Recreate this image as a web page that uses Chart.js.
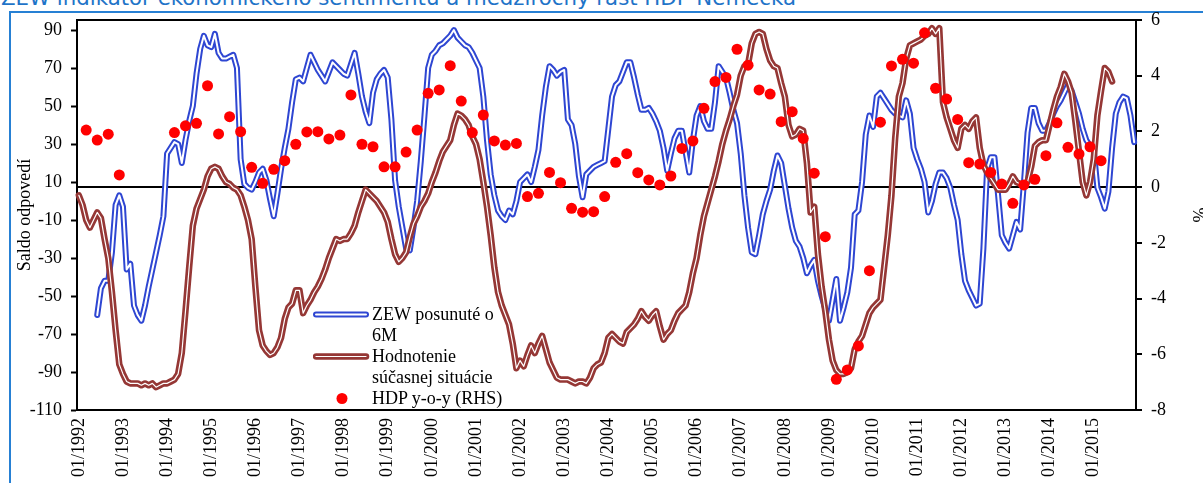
<!DOCTYPE html>
<html lang="sk">
<head>
<meta charset="utf-8">
<title>ZEW indikátor a HDP Nemecka</title>
<script src="https://cdn.jsdelivr.net/npm/chart.js@4.4.0/dist/chart.umd.min.js"></script>
<style>
  html, body { margin: 0; padding: 0; background: #fff; }
  #wrap { position: relative; width: 1203px; height: 483px; overflow: hidden; }
  #nadpis { position: absolute; left: 1px; top: -12px; font-family: "DejaVu Sans", Verdana, sans-serif; font-size: 21.3px; line-height: 20px; color: #1F74C8; white-space: nowrap; }
  #ramik { position: absolute; left: 9px; top: 11px; right: -2px; bottom: -2px; border-top: 2px solid #2680D4; border-left: 2px solid #2680D4; }
  canvas { position: absolute; left: 0; top: 0; }
  #legenda { position: absolute; left: 313px; top: 304px; font-family: "Liberation Serif", "Times New Roman", serif; font-size: 18px; line-height: 21px; color: #000; }
  .riadok { position: relative; padding-left: 59px; white-space: nowrap; }
  .riadok svg { position: absolute; left: 0; top: 0; }
</style>
</head>
<body>
<div id="wrap">
  <div id="ramik"></div>
  <div id="nadpis">ZEW indikátor ekonomického sentimentu a medziročný rast HDP Nemecka</div>
  <canvas id="graf" width="1203" height="483"></canvas>
  <div id="legenda">
    <div class="riadok">
      <svg width="58" height="21"><line x1="3" y1="10.5" x2="53" y2="10.5" stroke="#2E46D2" stroke-width="6" stroke-linecap="round"/><line x1="3" y1="10.5" x2="53" y2="10.5" stroke="#fff" stroke-width="2" stroke-linecap="round"/></svg>
      ZEW posunuté o<br>6M
    </div>
    <div class="riadok">
      <svg width="58" height="21"><line x1="3" y1="10.5" x2="53" y2="10.5" stroke="#953735" stroke-width="6.5" stroke-linecap="round"/><line x1="3" y1="10.5" x2="53" y2="10.5" stroke="#fff" stroke-width="1.2" stroke-linecap="round"/></svg>
      Hodnotenie<br>súčasnej situácie
    </div>
    <div class="riadok">
      <svg width="58" height="21"><circle cx="29" cy="10.5" r="5.5" fill="#FF0000"/></svg>
      HDP y-o-y (RHS)
    </div>
  </div>
</div>
<script>
// mesiace 01/1992 .. 12/2015
const roky = [];
for (let r = 1992; r <= 2015; r++) roky.push(r);
const mesiace = [];
roky.forEach(r => {
  for (let m = 1; m <= 12; m++) mesiace.push((m < 10 ? '0' + m : '' + m) + '/' + r);
});

// ZEW posunute o 6M (lava os), po rokoch
const zew = [
  null, null, null, null, null, -60, -46, -42, -42, -27, -2, 3,      // 1992
  -3, -36, -33, -55, -60, -63, -55, -45, -36, -27, -18, -8,          // 1993
  25, 28, 31, 30, 20, 32, 42, 50, 67, 80, 87, 82,                    // 1994
  81, 88, 78, 75, 75, 76, 77, 70, 22, 9, 7, 6,                       // 1995
  10, 15, 17, 11, 1, -8, 4, 17, 28, 38, 52, 64,                      // 1996
  65, 63, 70, 77, 73, 69, 66, 63, 68, 73, 71, 69,                    // 1997
  67, 66, 72, 78, 67, 55, 47, 41, 57, 64, 67, 69,                    // 1998
  65, 43, 11, -3, -14, -25, -26, -14, 0, 21, 45, 70,                 // 1999
  77, 79, 82, 83, 85, 87, 90, 86, 84, 82, 81, 78,                    // 2000
  74, 70, 55, 32, 14, 3, -5, -8, -10, -5, -7, 0,                     // 2001
  10, 12, 14, 10, 18, 27, 45, 60, 71, 69, 66, 68,                    // 2002
  69, 43, 40, 30, 13, 2, 14, 16, 18, 19, 20, 21,                     // 2003
  38, 55, 61, 63, 68, 73, 73, 65, 56, 48, 48, 49,                    // 2004
  46, 42, 37, 28, 16, 25, 33, 37, 37, 26, 15, 32,                    // 2005
  45, 50, 42, 38, 38, 52, 71, 68, 65, 57, 48, 41,                    // 2006
  25, 3, -14, -27, -28, -18, -7, 0, 6, 16, 24, 20,                   // 2007
  8, -4, -14, -21, -24, -30, -38, -34, -31, -42, -50, -57,           // 2008
  -63, -52, -41, -63, -56, -48, -35, -7, -5, 10, 35, 45,             // 2009
  39, 55, 57, 54, 51, 48, 46, 45, 44, 53, 46, 28,                    // 2010
  22, 17, 10, -6, 0, 9, 15, 15, 12, 7, -2, -10,                      // 2011
  -28, -42, -47, -51, -55, -54, -25, 17, 23, 23, 3, -18,             // 2012
  -22, -25, -18, -11, -15, 9, 36, 49, 49, 41, 37, 37,                // 2013
  41, 46, 50, 53, 57, 61, 58, 52, 46, 38, 32, 29,                    // 2014
  27, 7, 2, -4, 5, 28, 46, 52, 55, 54, 45, 31                        // 2015
];

// Hodnotenie sucasnej situacie (lava os)
const hodnotenie = [
  3, -2, -10, -14, -10, -6, -9, -20, -30, -48, -68, -86,             // 1992
  -91, -95, -96, -96, -96, -97, -96, -97, -96, -98, -97, -96,        // 1993
  -96, -95, -94, -91, -80, -58, -35, -13, -4, 1, 6, 13,              // 1994
  17, 18, 17, 13, 10, 9, 7, 6, 3, -3, -10, -20,                      // 1995
  -45, -68, -76, -79, -81, -80, -77, -72, -62, -56, -54, -47,        // 1996
  -47, -59, -55, -52, -48, -45, -41, -36, -30, -25, -20, -21,        // 1997
  -20, -20, -17, -13, -6, 0, 6, 4, 2, 0, -3, -6,                     // 1998
  -11, -20, -28, -32, -30, -27, -19, -12, -8, -3, 0, 4,              // 1999
  10, 15, 21, 26, 29, 32, 40, 46, 45, 43, 40, 34,                    // 2000
  30, 22, 10, -3, -18, -35, -48, -55, -60, -65, -75, -88,            // 2001
  -84, -87, -81, -76, -80, -75, -71, -78, -85, -89, -93, -94,        // 2002
  -94, -94, -95, -96, -95, -95, -96, -93, -88, -86, -85, -80,        // 2003
  -72, -70, -72, -74, -75, -69, -67, -65, -62, -58, -61, -63,        // 2004
  -60, -58, -66, -73, -70, -68, -63, -59, -57, -55, -48, -38,        // 2005
  -30, -18, -8, -1, 6, 13, 21, 30, 37, 43, 50, 56,                   // 2006
  66, 71, 72, 83, 88, 89, 88, 80, 74, 71, 70, 62,                    // 2007
  55, 40, 34, 35, 38, 37, 20, -6, -3, -28, -45, -58,                 // 2008
  -73, -84, -89, -91, -91, -90, -88, -78, -74, -71, -65, -59,        // 2009
  -56, -54, -52, -35, -18, 3, 33, 55, 62, 75, 82, 83,                // 2010
  84, 85, 87, 88, 91, 88, 91, 52, 44, 38, 32, 28,                    // 2011
  38, 40, 38, 42, 44, 28, 19, 15, 12, 9, 6, 6,                       // 2012
  6, 9, 13, 10, 9, 9, 10, 18, 29, 31, 32, 32,                        // 2013
  40, 48, 55, 60, 67, 63, 57, 42, 26, 10, 3, 10,                     // 2014
  22, 45, 58, 70, 68, 63, null, null, null, null, null, null         // 2015
];

// HDP y-o-y v %, stvrtroky Q1..Q4 (prava os)
const hdp = [
  2.05, 1.69, 1.9, 0.44,      // 1992
  null, null, null, null,     // 1993
  1.96, 2.2, 2.29, 3.64,      // 1994
  1.91, 2.53, 1.99, 0.71,     // 1995
  0.14, 0.64, 0.95, 1.54,     // 1996
  1.98, 1.99, 1.73, 1.87,     // 1997
  3.31, 1.54, 1.45, 0.73,     // 1998
  0.73, 1.26, 2.05, 3.37,     // 1999
  3.49, 4.36, 3.09, 1.96,     // 2000
  2.59, 1.66, 1.51, 1.57,     // 2001
  -0.34, -0.22, 0.53, 0.16,   // 2002
  -0.76, -0.9, -0.88, -0.34,  // 2003
  0.89, 1.2, 0.52, 0.26,      // 2004
  0.08, 0.4, 1.39, 1.66,      // 2005
  2.83, 3.79, 3.94, 4.95,     // 2006
  4.38, 3.49, 3.34, 2.35,     // 2007
  2.71, 1.75, 0.5, -1.78,     // 2008
  -6.9, -6.56, -5.7, -3.0,    // 2009
  2.33, 4.35, 4.59, 4.45,     // 2010
  5.54, 3.55, 3.16, 2.43,     // 2011
  0.88, 0.83, 0.53, 0.11,     // 2012
  -0.58, 0.08, 0.28, 1.13,    // 2013
  2.31, 1.43, 1.19, 1.45,     // 2014
  0.95, null, null, null      // 2015
];

const lavaOsTicks = [-110, -90, -70, -50, -30, -10, 10, 30, 50, 70, 90];

// bod stvrtroka patri k poslednemu mesiacu stvrtroka
const hdpBody = [];
hdp.forEach((v, q) => {
  if (v !== null) hdpBody.push({ x: mesiace[q * 3 + 2], y: v });
});

const modra = '#2E46D2';
const hneda = '#953735';

Chart.defaults.font.family = "'Liberation Serif', 'Times New Roman', serif";
Chart.defaults.font.size = 18;
Chart.defaults.color = '#000';

/* horna hrana plochy grafu */
const ramcek = {
  id: 'ramcek',
  beforeDatasetsDraw(chart) {
    const { ctx, chartArea: a } = chart;
    ctx.save();
    ctx.strokeStyle = '#000';
    ctx.lineWidth = 2;
    ctx.beginPath();
    ctx.moveTo(a.left - 1, a.top);
    ctx.lineTo(a.right + 1, a.top);
    ctx.stroke();
    ctx.restore();
  }
};

const ciara = { pointRadius: 0, tension: 0, borderJoinStyle: 'round', borderCapStyle: 'round', yAxisID: 'y' };

new Chart(document.getElementById('graf'), {
  type: 'line',
  data: {
    labels: mesiace,
    datasets: [
      { label: 'HDP y-o-y (RHS)', data: hdpBody, yAxisID: 'y1', showLine: false,
        pointRadius: 5.5, pointBackgroundColor: '#FF0000', pointBorderColor: '#FF0000', pointBorderWidth: 0, order: 0 },
      { ...ciara, label: 'hodnotenie stred', data: hodnotenie, borderColor: '#fff', borderWidth: 1.2, order: 1 },
      { ...ciara, label: 'Hodnotenie súčasnej situácie', data: hodnotenie, borderColor: hneda, borderWidth: 6.5, order: 2 },
      { ...ciara, label: 'zew stred', data: zew, borderColor: '#fff', borderWidth: 2, order: 3 },
      { ...ciara, label: 'ZEW posunuté o 6M', data: zew, borderColor: modra, borderWidth: 6, order: 4 }
    ]
  },
  options: {
    responsive: false,
    animation: false,
    events: [],
    layout: { padding: { left: 10, right: 0, top: 20, bottom: 0 } },
    plugins: { legend: { display: false }, tooltip: { enabled: false } },
    scales: {
      x: {
        offset: true,
        grid: { display: false, drawTicks: false },
        border: { display: true, color: '#000', width: 2 },
        ticks: {
          autoSkip: false, maxRotation: 90, minRotation: 90, padding: 8,
          callback: function (val, i) { return i % 12 === 0 ? this.getLabelForValue(val) : ''; }
        },
        afterFit: s => { s.height = 73; }
      },
      y: {
        position: 'left',
        min: -110,
        max: 95.3,
        afterBuildTicks: s => { s.ticks = lavaOsTicks.map(v => ({ value: v })); },
        grid: { drawOnChartArea: false, tickLength: 6, tickColor: '#000', tickWidth: 2 },
        border: { color: '#000', width: 2 },
        ticks: { padding: 9 },
        title: { display: true, text: 'Saldo odpovedí', padding: { top: 4, bottom: 0 } },
        afterFit: s => { s.width = 67; }
      },
      y1: {
        position: 'right',
        min: -8,
        max: 6,
        ticks: { stepSize: 2, padding: 9 },
        grid: {
          color: c => (c.tick && c.tick.value === 0 ? '#000' : 'rgba(0,0,0,0)'),
          lineWidth: 2, tickColor: '#000', tickWidth: 2, tickLength: 6
        },
        border: { color: '#000', width: 2 },
        title: { display: true, text: '%', padding: { top: -6, bottom: 0 } },
        afterFit: s => { s.width = 67; }
      }
    }
  },
  plugins: [ramcek]
});
</script>
</body>
</html>
